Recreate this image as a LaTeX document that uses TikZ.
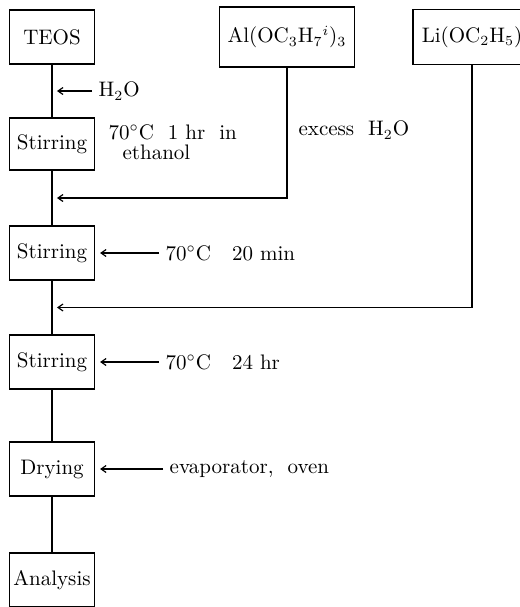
\documentclass[tikz,border=0pt]{standalone}
\usetikzlibrary{arrows.meta,positioning,calc}

\begin{document}
\begin{tikzpicture}[
    x=0.5pt, y=-0.5pt,
    font=\fontsize{10.5}{13}\selectfont,
    >={Straight Barb[length=2.5pt,width=3.5pt]},
    line width=0.6pt,
    stepbox/.style={
      draw,
      minimum width=42.5pt,
      minimum height=27pt,
      inner xsep=1pt,
      align=center
    },
    sourcebox/.style={draw, minimum height=30pt, inner xsep=4pt},
    branch/.style={->, shorten >=2.5pt},
    feed/.style={branch, shorten <=2pt},
    cond/.style={anchor=west, inner sep=1pt}
  ]
    \useasboundingbox (0,0) rectangle (520,607);

    \node[stepbox] (teos) at (52,37) {TEOS};
    \node[stepbox, minimum height=26pt] (stir1) at (52,144) {Stirring};
    \node[stepbox] (stir2) at (52,253) {Stirring};
    \node[stepbox] (stir3) at (52,362) {Stirring};
    \node[stepbox] (dry) at (52,469) {Drying};
    \node[stepbox] (ana) at (52,580) {Analysis};

    \node[sourcebox, minimum width=60pt] (al) at (287,37)
      {Al(OC$_3$H$_7$$^{i}$)$_3$};
    \node[sourcebox, minimum width=59pt, minimum height=27.5pt] (li) at (472,37)
      {Li(OC$_2$H$_5$)};

    \draw (teos) -- (stir1) -- (stir2) -- (stir3) -- (dry) -- (ana);

    \coordinate (w0) at ($(teos.south)!0.5!(stir1.north)$);
    \coordinate (j1) at ($(stir1.south)!0.5!(stir2.north)$);
    \coordinate (j2) at ($(stir2.south)!0.5!(stir3.north)$);

    \node[cond, right=22pt of w0] (water) {H$_2$O};
    \draw[feed] (water) -- (w0);

    \node[cond, align=left] (cond1) at (106,142)
      {70$^{\circ}$C\ \ 1 hr\ \ in\\[-3pt]\hspace{7pt}ethanol};

    \draw[branch] (al) |- (j1);
    \node[cond] (excess) at (296,130) {excess\ \ H$_2$O};
    \draw[branch] (li) |- (j2);

    \node[cond, right=34pt of stir2] (cond2) {70$^{\circ}$C\ \ \ 20 min};
    \draw[feed] (cond2) -- (stir2);
    \node[cond, right=34pt of stir3] (cond3) {70$^{\circ}$C\ \ \ 24 hr};
    \draw[feed] (cond3) -- (stir3);
    \node[cond, right=36pt of dry] (cond4) {evaporator,\ \ oven};
    \draw[feed] (cond4) -- (dry);
  \end{tikzpicture}
\end{document}
